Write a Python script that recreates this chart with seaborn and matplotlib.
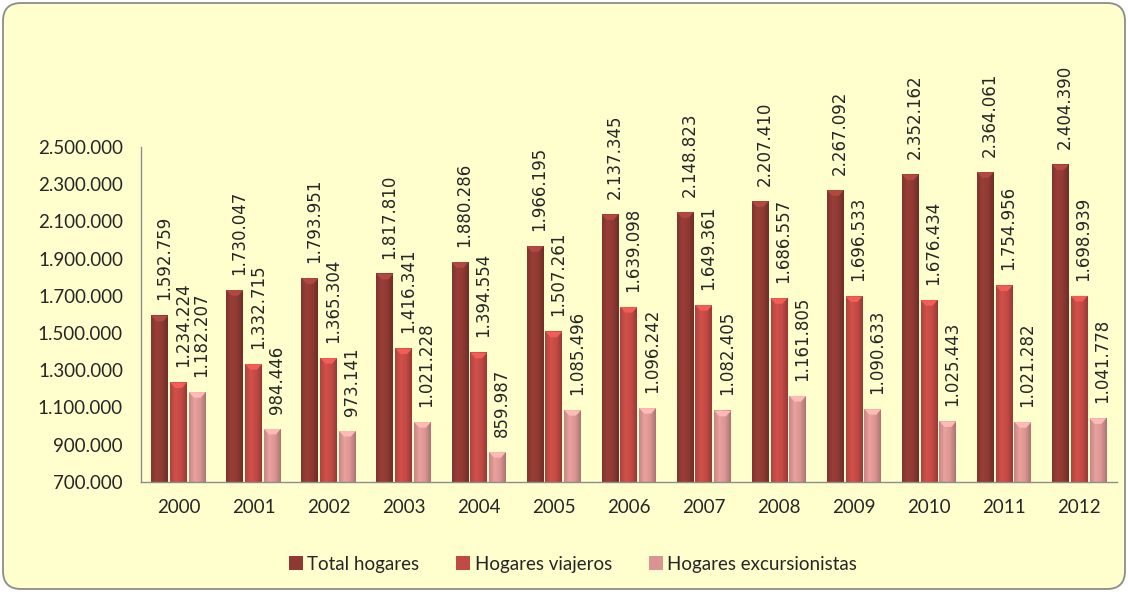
import numpy as np
import pandas as pd
import seaborn as sns
import matplotlib.pyplot as plt
from matplotlib.patches import FancyBboxPatch, Polygon
from matplotlib.colors import LinearSegmentedColormap, to_rgb

years = ['2000', '2001', '2002', '2003', '2004', '2005', '2006',
         '2007', '2008', '2009', '2010', '2011', '2012']
total_hogares = [1592759, 1730047, 1793951, 1817810, 1880286, 1966195, 2137345,
                 2148823, 2207410, 2267092, 2352162, 2364061, 2404390]
hogares_viajeros = [1234224, 1332715, 1365304, 1416341, 1394554, 1507261, 1639098,
                    1649361, 1686557, 1696533, 1676434, 1754956, 1698939]
hogares_excursionistas = [1182207, 984446, 973141, 1021228, 859987, 1085496, 1096242,
                          1082405, 1161805, 1090633, 1025443, 1021282, 1041778]
series_names = ['Total hogares', 'Hogares viajeros', 'Hogares excursionistas']
colors = ['#8E3A33', '#C24A45', '#DA9592']


def fmt(v):
    return f'{v:,.0f}'.replace(',', '.')


def shade(c, f):
    return tuple(min(1, x * f) for x in to_rgb(c))


df = pd.DataFrame({
    'year': years * 3,
    'value': total_hogares + hogares_viajeros + hogares_excursionistas,
    'serie': [series_names[0]] * 13 + [series_names[1]] * 13 + [series_names[2]] * 13,
})

sns.set_style('white')
plt.rcParams['font.family'] = ['Lato', 'DejaVu Sans']

fig = plt.figure(figsize=[11.28, 5.92], dpi=100, facecolor='white')
fig.patches.append(FancyBboxPatch((3, 3), 1122, 586,
                                  boxstyle='round,pad=0,rounding_size=18',
                                  transform=None, facecolor='#FFFFCE',
                                  edgecolor='#8C8C8C', linewidth=1.3, zorder=-10))
ax = fig.add_axes([0.125, 0.186, 0.865, 0.566])
ax.set_facecolor('none')

sns.barplot(data=df, x='year', y='value', hue='serie', palette=colors,
            width=0.75, gap=0.1, linewidth=0, ax=ax, saturation=1, legend=True)

# fake the cylinder-ish shading of the original bars
grad = np.linspace(0, 1, 64).reshape(1, -1)
cap = 30000  # height of the light top cap, in data units
for container, c in zip(ax.containers, colors):
    cmap = LinearSegmentedColormap.from_list(
        'b', [shade(c, 0.9), shade(c, 1.08), shade(c, 1.0), shade(c, 0.78)])
    for bar in container:
        x0, w, h = bar.get_x(), bar.get_width(), bar.get_height()
        ax.imshow(grad, cmap=cmap, extent=[x0, x0 + w, 0, h], aspect='auto', zorder=2)
        ax.add_patch(Polygon([(x0, h), (x0 + w, h), (x0 + w * 0.7, h - cap),
                              (x0 + w * 0.3, h - cap)], closed=True,
                             facecolor=shade(c, 1.25), edgecolor='none', zorder=2.5))
        ax.annotate(fmt(h), (x0 + w / 2, h), xytext=(3, 11), textcoords='offset points',
                    rotation=90, ha='center', va='bottom', fontsize=12,
                    family='DejaVu Sans', clip_on=False)

ax.set_xlim(-0.5, len(years) - 0.5)
ax.set_ylim(700000, 2500000)
ax.set_yticks(np.arange(700000, 2500001, 200000))
ax.yaxis.set_major_formatter(plt.FuncFormatter(lambda v, p: fmt(v)))
ax.tick_params(axis='y', labelsize=13.5, length=0, pad=13)
ax.tick_params(axis='x', labelsize=13.5, length=0, pad=12)
ax.set_xlabel('')
ax.set_ylabel('')
for s in ['top', 'right']:
    ax.spines[s].set_visible(False)
for s in ['left', 'bottom']:
    ax.spines[s].set_color('#8C8C8C')
    ax.spines[s].set_linewidth(1)
    ax.spines[s].set_zorder(3)

handles, labels = ax.get_legend_handles_labels()
ax.get_legend().remove()
fig.legend(handles, labels, loc='center', bbox_to_anchor=(0.508, 0.047), ncol=3,
           frameon=False, fontsize=13.5, handlelength=0.75, handleheight=0.75,
           handletextpad=0.25, columnspacing=1.95)

fig.savefig('out.png', dpi=100, facecolor='white')
